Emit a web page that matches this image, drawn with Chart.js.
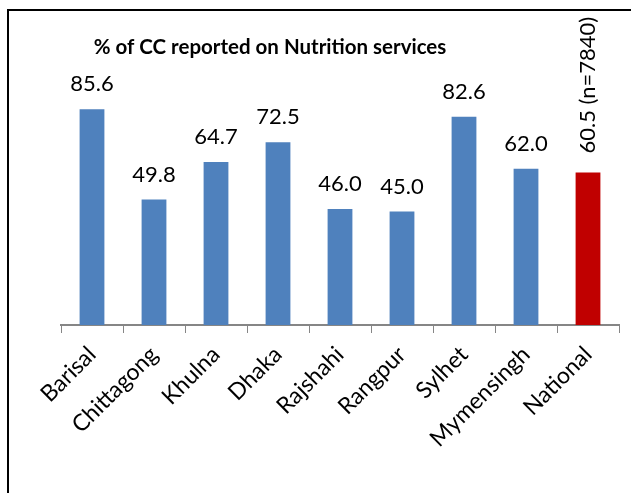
<!DOCTYPE html>
<html lang="en">
<head>
  <meta charset="UTF-8" />
  <title>% of CC reported on Nutrition services</title>
  <script src="https://cdn.jsdelivr.net/npm/chart.js"></script>
  <style>
    body { margin: 0; background: #fff; }
    #wrap { width: 631px; height: 493px; }
  </style>
</head>
<body>
<div id="wrap"><canvas id="ccChart" width="631" height="493"></canvas></div>
<script>
  const regions = ["Barisal", "Chittagong", "Khulna", "Dhaka", "Rajshahi", "Rangpur", "Sylhet", "Mymensingh", "National"];
  const percent = [85.6, 49.8, 64.7, 72.5, 46.0, 45.0, 82.6, 62.0, 60.5];
  const nationalNote = "(n=7840)";
  const barColors = ["#4F81BD", "#4F81BD", "#4F81BD", "#4F81BD", "#4F81BD", "#4F81BD", "#4F81BD", "#4F81BD", "#C00000"];
  const titleText = "% of CC reported on Nutrition services";
  const fontFam = "Lato, 'Open Sans', sans-serif";

  // frame + title + value labels
  const decor = {
    id: 'decor',
    beforeDraw(chart) {
      const ctx = chart.ctx;
      ctx.save();
      ctx.strokeStyle = '#000';
      ctx.lineWidth = 2;
      ctx.beginPath();
      ctx.moveTo(8, 493);
      ctx.lineTo(8, 10);
      ctx.lineTo(631, 10);
      ctx.stroke();
      ctx.fillStyle = '#000';
      ctx.font = "bold 20.5px " + fontFam;
      ctx.textAlign = 'center';
      ctx.textBaseline = 'middle';
      ctx.fillText(titleText, 270, 47);
      ctx.restore();
    },
    afterDatasetsDraw(chart) {
      const ctx = chart.ctx;
      const bars = chart.getDatasetMeta(0).data;
      ctx.save();
      ctx.fillStyle = '#000';
      ctx.font = "22px " + fontFam;
      bars.forEach((bar, i) => {
        const txt = percent[i].toFixed(1);
        if (i === bars.length - 1) {
          ctx.save();
          ctx.translate(bar.x, bar.y - 19);
          ctx.rotate(-Math.PI / 2);
          ctx.textAlign = 'left';
          ctx.textBaseline = 'middle';
          ctx.fillText(txt + " " + nationalNote, 0, 0);
          ctx.restore();
        } else {
          ctx.textAlign = 'center';
          ctx.textBaseline = 'middle';
          ctx.fillText(txt, bar.x, bar.y - 25);
        }
      });
      ctx.restore();
    }
  };

  new Chart(document.getElementById("ccChart"), {
    type: 'bar',
    data: {
      labels: regions,
      datasets: [{
        data: percent,
        backgroundColor: barColors,
        categoryPercentage: 1,
        barPercentage: 0.4
      }]
    },
    options: {
      responsive: false,
      animation: false,
      layout: { padding: { left: 61, right: 12, top: 73, bottom: 0 } },
      plugins: {
        legend: { display: false },
        title: { display: false },
        tooltip: { enabled: false }
      },
      scales: {
        x: {
          grid: { drawOnChartArea: false, color: '#868686', tickLength: 8, offset: true },
          border: { color: '#868686', width: 2 },
          ticks: {
            color: '#000',
            font: { family: fontFam, size: 23 },
            minRotation: 45,
            maxRotation: 45,
            padding: 8
          },
          afterFit(scale) { scale.height = 168; }
        },
        y: {
          display: false,
          min: 0,
          max: 100
        }
      }
    },
    plugins: [decor]
  });
</script>
</body>
</html>
